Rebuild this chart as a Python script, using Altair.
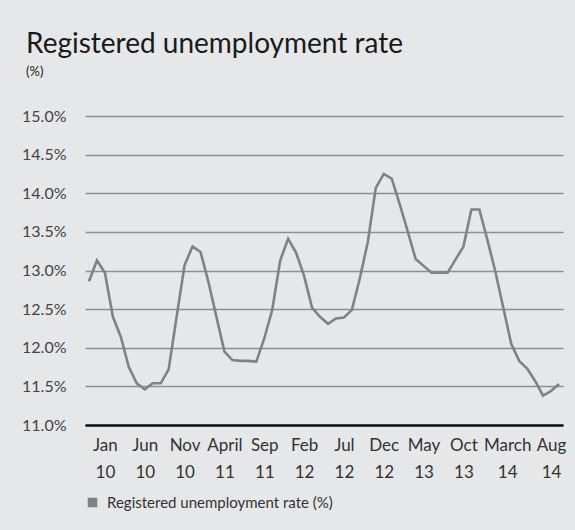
import json
import altair as alt
import pandas as pd

# ---- data ----
series_name = "Registered unemployment rate (%)"
rate = [
    12.86, 13.13, 12.97, 12.40, 12.14, 11.75, 11.54, 11.46, 11.54, 11.54,
    11.72, 12.40, 13.07, 13.31, 13.24, 12.85, 12.40, 11.95, 11.84, 11.83,
    11.83, 11.82, 12.12, 12.49, 13.13, 13.41, 13.23, 12.93, 12.52, 12.40,
    12.31, 12.38, 12.39, 12.49, 12.90, 13.37, 14.07, 14.25, 14.19, 13.86,
    13.51, 13.15, 13.06, 12.97, 12.97, 12.97, 13.14, 13.31, 13.79, 13.79,
    13.40, 12.99, 12.52, 12.05, 11.83, 11.73, 11.57, 11.38, 11.44, 11.53,
]
month_index = list(range(len(rate)))

tick_pos = [2, 7, 12, 17, 22, 27, 32, 37, 42, 47, 52.5, 58]
tick_month = ["Jan", "Jun", "Nov", "April", "Sep", "Feb", "Jul", "Dec", "May", "Oct", "March", "Aug"]
tick_year = ["10", "10", "10", "11", "11", "12", "12", "12", "13", "13", "14", "14"]
y_ticks = [11.0, 11.5, 12.0, 12.5, 13.0, 13.5, 14.0, 14.5, 15.0]

df = pd.DataFrame({"i": month_index, "rate": rate, "series": [series_name] * len(rate)})

FONT = "Lato"
BG = "#e6e7e8"

x_label_expr = (
    f"[{json.dumps(tick_month)}[indexof({json.dumps(tick_pos)}, datum.value)], "
    f"{json.dumps(tick_year)}[indexof({json.dumps(tick_pos)}, datum.value)]]"
)

chart = (
    alt.Chart(df)
    .mark_line(strokeWidth=2.6, strokeJoin="miter")
    .encode(
        x=alt.X(
            "i:Q",
            scale=alt.Scale(domain=[-0.5, len(rate) - 0.5], nice=False, zero=False),
            axis=alt.Axis(
                title=None,
                values=tick_pos,
                labelExpr=x_label_expr,
                labelFontSize=17,
                labelColor="#333333",
                labelFont=FONT,
                labelLineHeight=27,
                labelPadding=12,
                ticks=False,
                grid=False,
                domainColor="#111111",
                domainWidth=2.6,
                labelOverlap=False,
                labelFlush=False,
            ),
        ),
        y=alt.Y(
            "rate:Q",
            scale=alt.Scale(domain=[11, 15], nice=False, zero=False),
            axis=alt.Axis(
                title=None,
                values=y_ticks,
                labelExpr="format(datum.value, '.1f') + '%'",
                labelFontSize=16,
                labelColor="#444444",
                labelFont=FONT,
                labelPadding=19,
                ticks=False,
                domain=False,
                grid=True,
                gridColor="#8f8f8f",
                gridWidth=1.4,
            ),
        ),
        color=alt.Color(
            "series:N",
            scale=alt.Scale(range=["#828282"]),
            legend=alt.Legend(
                title=None,
                orient="none",
                legendX=0,
                legendY=379,
                symbolType="square",
                symbolSize=90,
                symbolFillColor="#808080",
                symbolStrokeWidth=0,
                labelFontSize=15,
                labelColor="#333333",
                labelFont=FONT,
                labelOffset=7,
                labelLimit=0,
            ),
        ),
    )
    .properties(
        width=478,
        height=309,
        padding={"left": 85, "top": 116, "right": 12, "bottom": 105},
        autosize=alt.AutoSizeParams(type="none"),
        background=BG,
        title=alt.TitleParams(
            text="Registered unemployment rate",
            subtitle="(%)",
            anchor="start",
            frame="group",
            dx=-59,
            offset=29,
            fontSize=28,
            font=FONT,
            fontWeight="normal",
            color="#1a1a1a",
            subtitleFontSize=13,
            subtitleFont=FONT,
            subtitleColor="#1a1a1a",
            subtitlePadding=7,
        ),
    )
    .configure_view(stroke=None)
)

chart.save("out.html", embed_options={"renderer": "svg", "actions": False})
